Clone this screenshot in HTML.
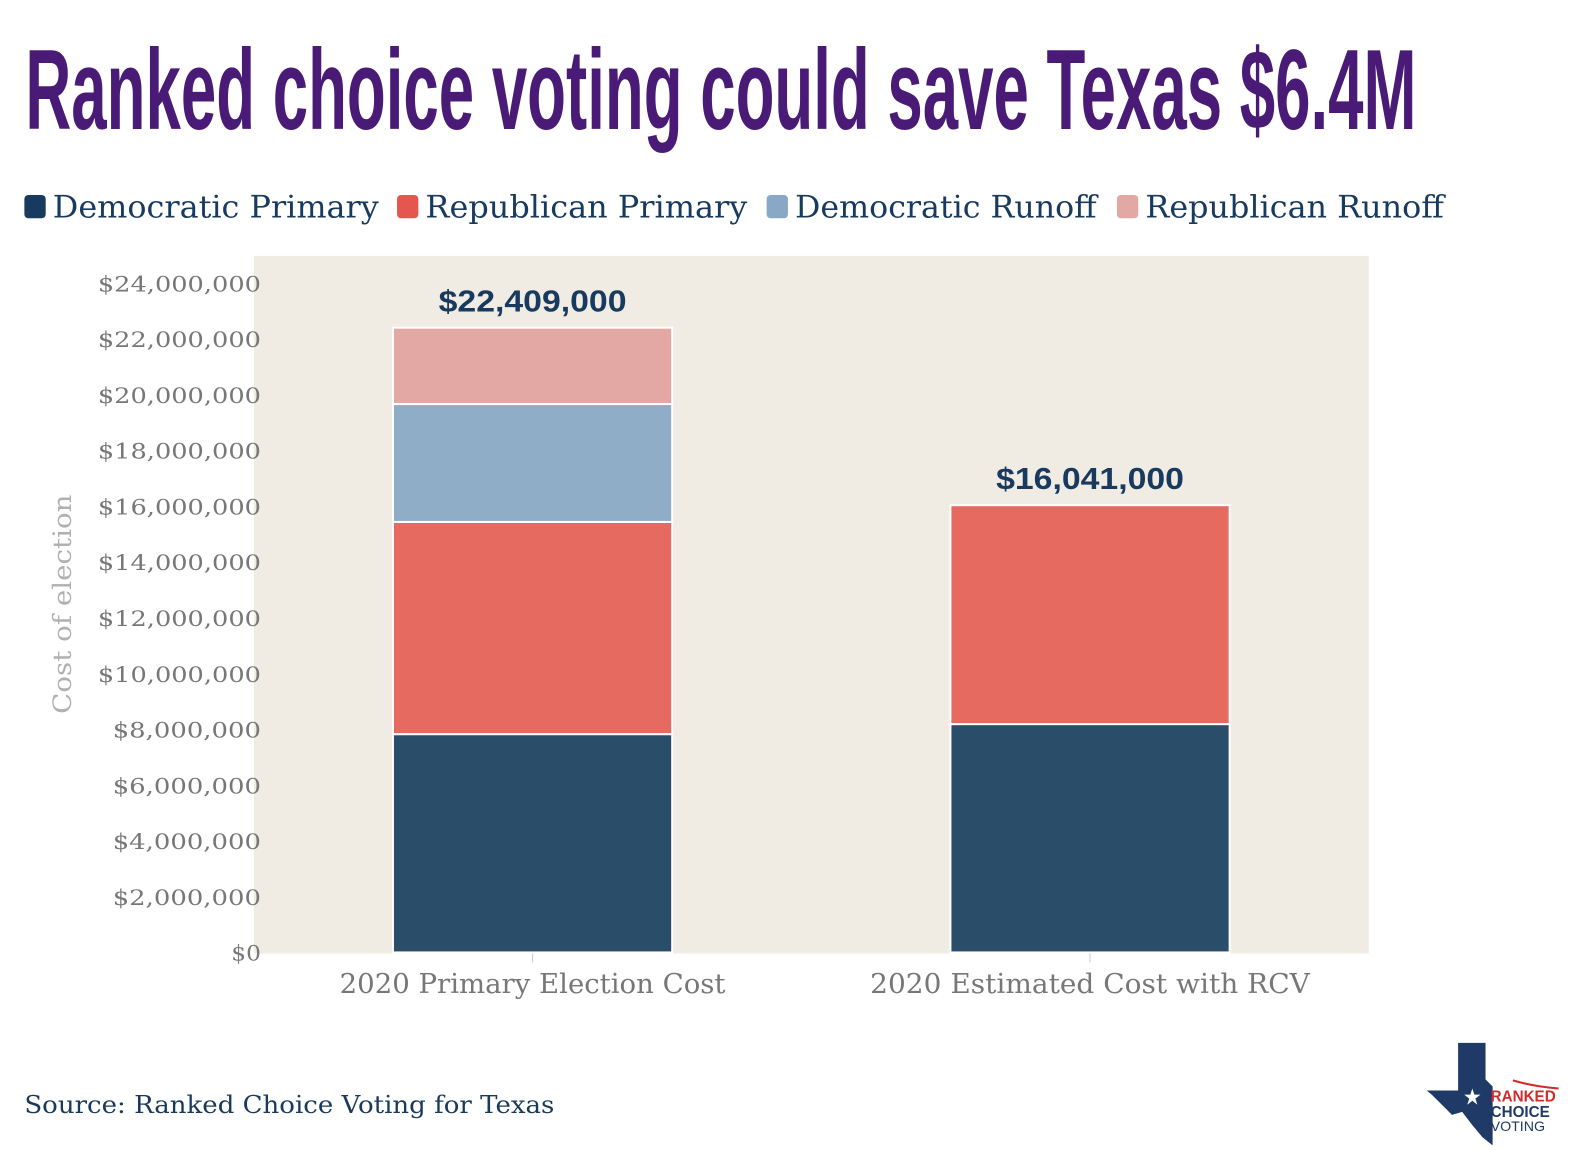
<!DOCTYPE html>
<html><head><meta charset="utf-8"><style>
html,body{margin:0;padding:0;background:#fff;}
svg{display:block;}
.serif{font-family:"DejaVu Serif","Liberation Serif",serif;}
</style></head><body>
<svg id="chart" width="1592" height="1150" viewBox="0 0 1592 1150" xmlns="http://www.w3.org/2000/svg">
<g transform="scale(1.0154)">
<text x="25" y="127" font-family="'Liberation Sans Narrow','Liberation Sans',sans-serif" font-weight="bold" font-size="112" fill="#4a1a77" textLength="1370" lengthAdjust="spacingAndGlyphs">Ranked choice voting could save Texas $6.4M</text>
<g id="legend"></g>
<rect x="250" y="252" width="1098" height="687" fill="#f0ebe3"/>
<g id="grid"></g>
<g id="bars"></g>
<g id="ticks"></g>
<text transform="translate(70,595) rotate(-90)" text-anchor="middle" class="serif" font-size="25" fill="#b0b0b0" textLength="216" lengthAdjust="spacingAndGlyphs">Cost of election</text>
<text x="24" y="1096" class="serif" font-size="24" fill="#1a3a5c" textLength="522" lengthAdjust="spacingAndGlyphs">Source: Ranked Choice Voting for Texas</text>
<g>
<path d="M1436 1027 L1463 1027 L1463 1063 L1470 1070 L1470 1128 L1460 1120 L1450 1108 L1440 1095 L1430 1098 L1420 1088 L1410 1078 L1405 1074 L1436 1074 Z" fill="#1f3a66"/>
<polygon points="1450,1072 1452,1078 1458,1078 1453,1082 1455,1088 1450,1084 1445,1088 1447,1082 1442,1078 1448,1078" fill="#fff"/>
<path d="M1490 1064 Q1510 1070 1535 1072" stroke="#d42a2a" stroke-width="2" fill="none"/>
<text x="1468" y="1085" font-family="'Liberation Sans',sans-serif" font-weight="bold" font-size="15" fill="#d42a2a">RANKED</text>
<text x="1468" y="1100" font-family="'Liberation Sans',sans-serif" font-weight="bold" font-size="15" fill="#1f3a66">CHOICE</text>
<text x="1468" y="1114" font-family="'Liberation Sans',sans-serif" font-size="14" fill="#1f3a66">VOTING</text>
</g>
</g>
</svg>
<script>
const categories = ["2020 Primary Election Cost", "2020 Estimated Cost with RCV"];
const seriesNames = ["Democratic Primary", "Republican Primary", "Democratic Runoff", "Republican Runoff"];
const demPrimary = [7830000, 8190000];
const repPrimary = [7610000, 7851000];
const demRunoff = [4230000, 0];
const repRunoff = [2739000, 0];
const totalLabels = ["$22,409,000", "$16,041,000"];
const tickValues = [0,2000000,4000000,6000000,8000000,10000000,12000000,14000000,16000000,18000000,20000000,22000000,24000000];
const colors = ["#2a4d69", "#e76a61", "#90adc8", "#e3a7a4"];
const legendColors = ["#173a5e", "#e5574e", "#89a8c6", "#e3a7a4"];

const NS = "http://www.w3.org/2000/svg";
const y0 = 938, pxPerUnit = (938 - 279) / 24000000;
function yScale(v){ return y0 - v * pxPerUnit; }
const bandStart = 250, bandWidth = 549;
function xCenter(i){ return bandStart + bandWidth * (i + 0.5); }
const barW = 275;
function mk(tag, attrs, parent){ const e = document.createElementNS(NS, tag); for (const k in attrs) e.setAttribute(k, attrs[k]); parent.appendChild(e); return e; }

const ticks = document.getElementById("ticks");
tickValues.forEach(v => {
  const y = yScale(v);
  const s = "$" + v.toLocaleString("en-US");
  const t = mk("text", {x: 257, y: y + 8, "text-anchor": "end", "font-size": 21, fill: "#777", class: "serif", textLength: s.length * 14.6, lengthAdjust: "spacingAndGlyphs"}, ticks);
  
  
  t.textContent = s;
});
const bars = document.getElementById("bars");
const series = [demPrimary, repPrimary, demRunoff, repRunoff];
categories.forEach((c, i) => {
  const cx = xCenter(i);
  let acc = 0;
  series.forEach((s, j) => {
    if (s[i] <= 0) return;
    const top = yScale(acc + s[i]), bot = yScale(acc);
    const r = mk("rect", {x: cx - barW/2, y: top, width: barW, height: bot - top, fill: colors[j], stroke: "#fff", "stroke-width": 2}, bars);
    
    
    acc += s[i];
  });
  const lbl = mk("text", {x: cx, y: yScale(acc) - 16, "text-anchor": "middle", "font-size": 30, "font-weight": "bold", fill: "#173a5e", "font-family": "'Liberation Sans',sans-serif", textLength: 185, lengthAdjust: "spacingAndGlyphs"}, bars);
  
  
  lbl.textContent = totalLabels[i];
  const tk = mk("line", {x1: cx, x2: cx, y1: 939, y2: 948, stroke: "#ccc"}, ticks);
  
  
  const xl = mk("text", {x: cx, y: 978, "text-anchor": "middle", "font-size": 27, fill: "#777", class: "serif", textLength: i === 0 ? 380 : 433, lengthAdjust: "spacingAndGlyphs"}, ticks);
  
  
  xl.textContent = c;
});
const legend = document.getElementById("legend");
const legX = [24, 391, 755, 1100], legW = [349, 345, 325, 322];
seriesNames.forEach((n, j) => {
  const sw = mk("rect", {x: legX[j], y: 192, width: 21, height: 23, rx: 4, fill: legendColors[j]}, legend);
  
  
  const t = mk("text", {x: legX[j] + 28, y: 214, "font-size": 30, fill: "#173a5e", class: "serif", textLength: legW[j] - 28, lengthAdjust: "spacingAndGlyphs"}, legend);
  
  
  t.textContent = n;
});
</script>
</body></html>
